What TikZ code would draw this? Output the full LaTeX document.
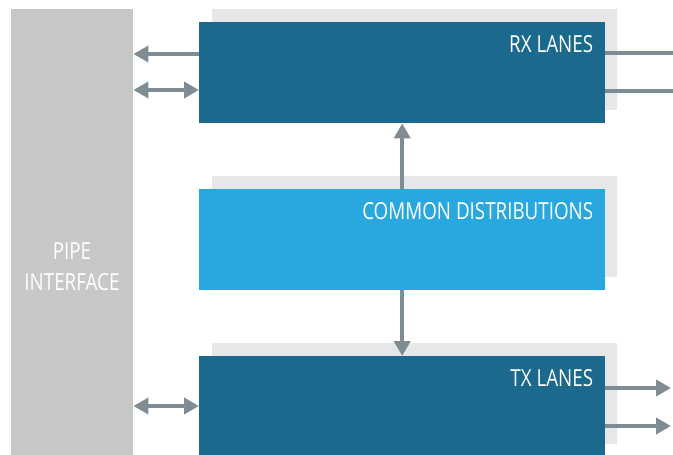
\documentclass[tikz,border=0pt]{standalone}
\usepackage{fontspec}
\setmainfont{Open Sans}[FakeStretch=0.8]
\usetikzlibrary{arrows.meta,positioning,calc}

\definecolor{pipegrey}{HTML}{C7C8CA}
\definecolor{shadowgrey}{HTML}{E6E7E9}
\definecolor{lanesblue}{HTML}{1B6A8E}
\definecolor{commonblue}{HTML}{29A8DF}
\definecolor{linkgrey}{HTML}{7F8C93}

\tikzset{
	block/.style={minimum width=406pt, minimum height=101pt, inner sep=0pt, anchor=north west},
	shadowbox/.style={block, fill=shadowgrey, minimum width=405pt},
	blocklabel/.style={text=white, font=\fontsize{23.5}{28}\selectfont, inner sep=0pt},
	link/.style={draw=linkgrey, line width=4pt},
	>={Triangle[length=15pt,width=16pt]}
}

\begin{document}
\begin{tikzpicture}[x=1pt,y=-1pt]
	\useasboundingbox (0,0) rectangle (673,455);

	% grey shadows behind the blocks
	\node[shadowbox] (rxshadow) at (212,9) {};
	\node[shadowbox] (commonshadow) at (212,176) {};
	\node[shadowbox] (txshadow) at (212,343) {};

	% pipe interface bar
	\node[fill=pipegrey, minimum width=122pt, minimum height=460pt, inner sep=0pt, anchor=north west] (pipe) at (11,9) {};
	\node[blocklabel, align=center] (pipelabel) at (72,267) {PIPE\\[3pt]INTERFACE};

	% links between the blocks
	\node[block] (rx) at (199,22) {};
	\node[block] (common) at (199,189) {};
	\node[block] (tx) at (199,356) {};
	\draw[link,->] (common.north) -- (rx.south);
	\draw[link,->] (common.south) -- (tx.north);

	% blocks
	\node[block, fill=lanesblue] at (rx.north west) {};
	\node[block, fill=commonblue] at (common.north west) {};
	\node[block, fill=lanesblue, minimum height=110pt] at (tx.north west) {};
	\node[blocklabel, anchor=north east] (rxlabel) at ($(rx.north east)+(-12,13)$) {RX LANES};
	\node[blocklabel, anchor=north east] (commonlabel) at ($(common.north east)+(-12,13)$) {COMMON DISTRIBUTIONS};
	\node[blocklabel, anchor=north east] (txlabel) at ($(tx.north east)+(-12,13)$) {TX LANES};

	% rx lanes
	\coordinate (rxa) at ($(rx.north west)+(0,32)$);
	\coordinate (rxb) at ($(rx.north west)+(0,68)$);
	\draw[link,->] (rxa) -- (rxa -| pipe.east);
	\draw[link,<->] (rxb -| pipe.east) -- (rxb);
	\coordinate (rxc) at ($(rx.north east)+(0,31)$);
	\coordinate (rxd) at ($(rx.north east)+(0,69)$);
	\coordinate (rxcend) at (673,0 |- rxc);
	\coordinate (rxdend) at (673,0 |- rxd);
	\draw[link] (rxc) -- (rxcend);
	\draw[link] (rxd) -- (rxdend);

	% tx lanes
	\coordinate (txa) at ($(tx.north west)+(0,50)$);
	\draw[link,<->] (txa -| pipe.east) -- (txa);
	\coordinate (txb) at ($(tx.north east)+(0,32)$);
	\coordinate (txc) at ($(tx.north east)+(0,70)$);
	\coordinate (txbend) at (671,0 |- txb);
	\coordinate (txcend) at (671,0 |- txc);
	\draw[link,->] (txb) -- (txbend);
	\draw[link,->] (txc) -- (txcend);
\end{tikzpicture}
\end{document}
